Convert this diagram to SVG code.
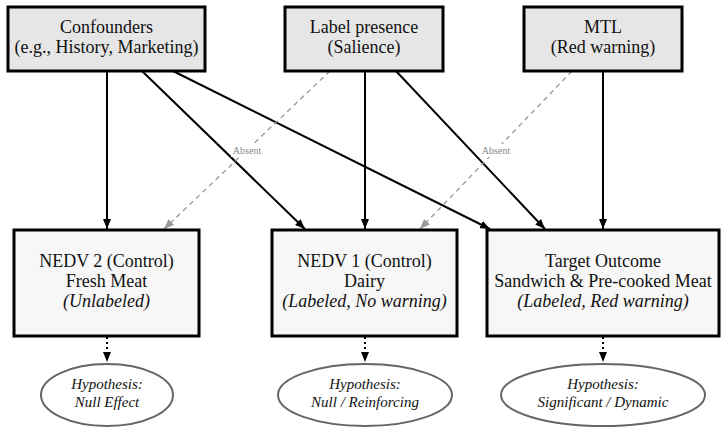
<svg xmlns="http://www.w3.org/2000/svg" width="726" height="434" viewBox="0 0 726 434" font-family="'Liberation Serif', 'DejaVu Serif', serif">
<defs>
<style>
text{font-family:'Liberation Serif','DejaVu Serif',serif}
.t{font-size:18px;fill:#111;text-anchor:middle}
.i{font-style:italic}
.h{font-size:15px;font-style:italic;fill:#111;text-anchor:middle}
.top{fill:#e6e6e6;stroke:#000;stroke-width:3}
.bot{fill:#f7f7f7;stroke:#000;stroke-width:3}
.ell{fill:#fff;stroke:#666;stroke-width:2}
.s{stroke:#000;stroke-width:2;fill:none;marker-end:url(#ab)}
.d{stroke:#999;stroke-width:1.3;stroke-dasharray:5 4;fill:none;marker-end:url(#ag)}
.o{stroke:#000;stroke-width:2;stroke-dasharray:2 3;fill:none;marker-end:url(#ab)}
.lab{font-size:10px;fill:#888;text-anchor:middle}
</style>
<marker id="ab" viewBox="0 0 10 8" refX="10" refY="4" markerWidth="10" markerHeight="8" markerUnits="userSpaceOnUse" orient="auto"><path d="M0,0 L10,4 L0,8 Z" fill="#000"/></marker>
<marker id="ag" viewBox="0 0 10 8" refX="10" refY="4" markerWidth="10" markerHeight="8" markerUnits="userSpaceOnUse" orient="auto"><path d="M0,0 L10,4 L0,8 Z" fill="#999"/></marker>
</defs>
<rect width="726" height="434" fill="#fff"/>
<g id="connectors">
<line class="s" x1="107" y1="71" x2="107" y2="229"/>
<line class="s" x1="142" y1="71" x2="305" y2="229"/>
<line class="s" x1="173" y1="71" x2="490" y2="229"/>
<line class="s" x1="365" y1="71" x2="365" y2="229"/>
<line class="s" x1="396" y1="71" x2="545" y2="229"/>
<line class="s" x1="603" y1="71" x2="603" y2="229"/>
<line class="d" x1="330" y1="71" x2="164" y2="229"/>
<line class="d" x1="572" y1="71" x2="420" y2="229"/>
<rect x="231" y="144" width="32" height="13" fill="#fff"/>
<text class="lab" x="247" y="154">Absent</text>
<rect x="480" y="144" width="32" height="13" fill="#fff"/>
<text class="lab" x="496" y="154">Absent</text>
<line class="o" x1="107" y1="337" x2="107" y2="362"/>
<line class="o" x1="365" y1="337" x2="365" y2="362"/>
<line class="o" x1="603" y1="337" x2="603" y2="362"/>
</g>
<g id="confounders">
<rect class="top" x="8" y="7" width="197" height="64"/>
<text class="t" x="106.5" y="33">Confounders</text>
<text class="t" x="106.5" y="53">(e.g., History, Marketing)</text>
</g>
<g id="label-presence">
<rect class="top" x="285" y="7" width="158" height="64"/>
<text class="t" x="364" y="33">Label presence</text>
<text class="t" x="364" y="53">(Salience)</text>
</g>
<g id="mtl">
<rect class="top" x="524" y="7" width="158" height="64"/>
<text class="t" x="603" y="33">MTL</text>
<text class="t" x="603" y="53">(Red warning)</text>
</g>
<g id="nedv2">
<rect class="bot" x="14" y="230" width="185" height="106"/>
<text class="t" x="106.5" y="267">NEDV 2 (Control)</text>
<text class="t" x="106.5" y="287">Fresh Meat</text>
<text class="t i" x="106.5" y="307">(Unlabeled)</text>
</g>
<g id="nedv1">
<rect class="bot" x="272" y="230" width="185" height="106"/>
<text class="t" x="364.5" y="267">NEDV 1 (Control)</text>
<text class="t" x="364.5" y="287">Dairy</text>
<text class="t i" x="364.5" y="307">(Labeled, No warning)</text>
</g>
<g id="target">
<rect class="bot" x="487" y="230" width="232" height="106"/>
<text class="t" x="603" y="267">Target Outcome</text>
<text class="t" x="603" y="287">Sandwich &amp; Pre-cooked Meat</text>
<text class="t i" x="603" y="307">(Labeled, Red warning)</text>
</g>
<g id="hyp-null">
<ellipse class="ell" cx="107" cy="395" rx="66" ry="31"/>
<text class="h" x="107" y="389">Hypothesis:</text>
<text class="h" x="107" y="407">Null Effect</text>
</g>
<g id="hyp-reinforcing">
<ellipse class="ell" cx="365" cy="395" rx="87" ry="31"/>
<text class="h" x="365" y="389">Hypothesis:</text>
<text class="h" x="365" y="407">Null / Reinforcing</text>
</g>
<g id="hyp-significant">
<ellipse class="ell" cx="603" cy="395" rx="102" ry="31"/>
<text class="h" x="603" y="389">Hypothesis:</text>
<text class="h" x="603" y="407">Significant / Dynamic</text>
</g>
</svg>
